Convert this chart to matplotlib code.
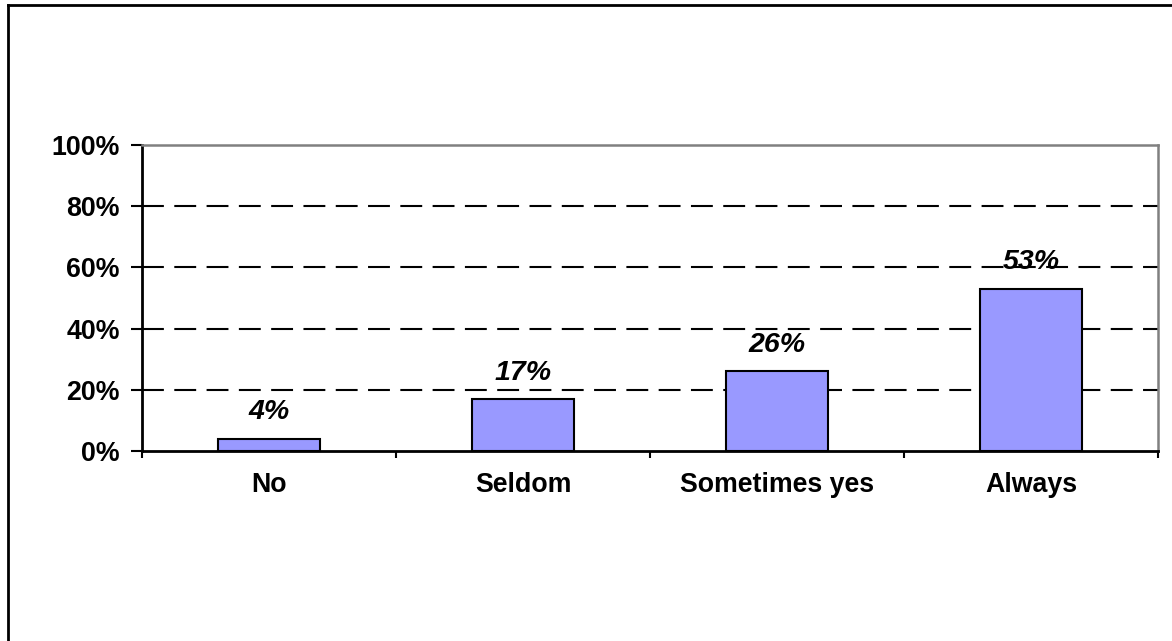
import matplotlib
matplotlib.use("Agg")
from matplotlib import pyplot as plt
from matplotlib.lines import Line2D
import numpy as np

plt.rcParams['font.family'] = ['Liberation Sans', 'DejaVu Sans']

categories = ['No', 'Seldom', 'Sometimes yes', 'Always']
shares = [4, 17, 26, 53]
y_ticks = [0, 20, 40, 60, 80, 100]

fig = plt.figure(figsize=(11.72, 6.41), dpi=100)
ax = fig.add_axes([142/1172, 1-451/641, (1158-142)/1172, (451-145)/641])

x = np.arange(len(categories))
ax.bar(x, shares, width=0.405, color='#9999FF', edgecolor='black', linewidth=1.5, zorder=3)

for xi, v in zip(x, shares):
    ax.annotate(f'{v}%', (xi, v), xytext=(0, 14), textcoords='offset points',
                ha='center', va='baseline', fontsize=20.5, fontweight='bold',
                fontstyle='italic', zorder=4)

ax.set_xlim(-0.5, len(categories) - 0.5)
ax.set_ylim(0, 100)

# dashed gridlines
for yv in y_ticks[1:-1]:
    ax.axhline(yv, color='black', linewidth=1.5, linestyle=(0, (10.5, 5)), zorder=1)

ax.set_yticks(y_ticks)
ax.set_yticklabels([f'{v}%' for v in y_ticks], fontsize=19.3, fontweight='bold')
ax.tick_params(axis='y', length=8, width=1.5, pad=8)

# category ticks sit at the boundaries, labels centred under bars
ax.set_xticks(np.arange(len(categories) + 1) - 0.5)
ax.set_xticklabels([])
ax.set_xticks(x, minor=True)
ax.set_xticklabels(categories, minor=True, fontsize=19.3, fontweight='bold')
ax.tick_params(axis='x', which='major', length=5, width=1.5, direction='out')
ax.tick_params(axis='x', which='minor', length=0, pad=15)

for side in ['left', 'bottom']:
    ax.spines[side].set_linewidth(2)
    ax.spines[side].set_color('black')
for side in ['top', 'right']:
    ax.spines[side].set_linewidth(1.8)
    ax.spines[side].set_color('#808080')

# outer chart frame (runs off the right and bottom edges)
fig.add_artist(Line2D([8/1172, 8/1172], [1-5/641, -0.1], transform=fig.transFigure,
                      color='black', linewidth=2))
fig.add_artist(Line2D([8/1172, 1.1], [1-5/641, 1-5/641], transform=fig.transFigure,
                      color='black', linewidth=2))

fig.savefig('out.png', dpi=100)
